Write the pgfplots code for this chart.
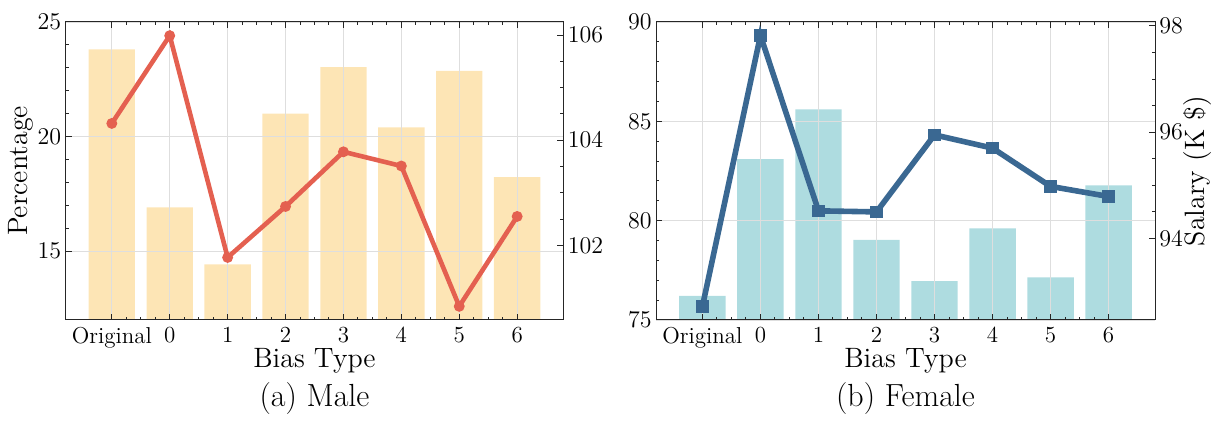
\documentclass[border=0pt]{standalone}
\usepackage{pgfplots}
\pgfplotsset{compat=1.18}
\definecolor{barorange}{RGB}{253,229,181}
\definecolor{linered}{RGB}{228,96,80}
\definecolor{barteal}{RGB}{174,220,224}
\definecolor{lineblue}{RGB}{58,104,146}
\pgfplotsset{
  base/.style={
    scale only axis, height=149pt,
    anchor=south west,
    xmin=-0.8, xmax=7.8,
    tick label style={font=\fontsize{11.5}{13}\selectfont},
    label style={font=\fontsize{14}{17}\selectfont},
    axis line style={black!85, line width=0.5pt},
    every tick/.style={black!85, line width=0.5pt},
    major tick length=3pt, minor tick length=1.5pt,
    tick align=inside,
    yticklabel style={inner xsep=2pt},
  },
  firstax/.style={
    axis on top,
    xtick={0,...,7}, xticklabels={Original,0,1,2,3,4,5,6}, minor x tick num=3,
    xtick pos=both, ytick pos=left,
    grid=major, grid style={black!13, line width=0.4pt},
    xlabel={Bias Type},
    xlabel style={at={(axis description cs:0.5,0)}, anchor=base, yshift=-24pt},
  },
  secondax/.style={
    axis y line*=right, axis x line=none,
    minor y tick num=3,
  },
}
\begin{document}
\begin{tikzpicture}
\path[use as bounding box] (0,0) rectangle (609.5pt,211pt);
% ---------- (a) Male ----------
\begin{axis}[base, firstax, name=lb, at={(32.75pt,51pt)}, width=249pt,
  ymin=12, ymax=25, ytick={15,20,25}, minor y tick num=4,
  ylabel={Percentage},
  ylabel style={at={(axis description cs:-0.0773,0.5)}, anchor=base},
]
\addplot[ybar, bar width=0.8, bar shift=0pt, fill=barorange, draw=none]
  coordinates {(0,23.81) (1,16.91) (2,14.43) (3,21.0) (4,23.03) (5,20.4) (6,22.87) (7,18.23)};
\end{axis}
\begin{axis}[base, secondax, at={(32.75pt,51pt)}, width=249pt,
  ymin=100.58, ymax=106.25, ytick={102,104,106},
]
\addplot[linered, line width=2.3pt, mark=*, mark size=1.5pt]
  coordinates {(0,104.32) (1,105.99) (2,101.77) (3,102.74) (4,103.78) (5,103.51) (6,100.84) (7,102.55)};
\end{axis}
\node[anchor=base, font=\fontsize{16}{19}\selectfont] at ([yshift=-43.5pt]lb.south) {(a) Male};
% ---------- (b) Female ----------
\begin{axis}[base, firstax, name=rb, at={(328pt,51pt)}, width=249.5pt,
  ymin=75, ymax=90, ytick={75,80,85,90}, minor y tick num=4,
]
\addplot[ybar, bar width=0.8, bar shift=0pt, fill=barteal, draw=none]
  coordinates {(0,76.21) (1,83.1) (2,85.6) (3,79.03) (4,76.96) (5,79.61) (6,77.15) (7,81.78)};
\end{axis}
\begin{axis}[base, secondax, at={(328pt,51pt)}, width=249.5pt,
  ymin=92.465, ymax=98.075, ytick={94,96,98},
  ylabel={Salary (K \$)},
  ylabel style={at={(axis description cs:1.1,0.5)}, anchor=base},
]
\addplot[lineblue, line width=2.8pt, mark=square*, mark size=1.7pt]
  coordinates {(0,92.72) (1,97.82) (2,94.52) (3,94.5) (4,95.95) (5,95.7) (6,94.98) (7,94.79)};
\end{axis}
\node[anchor=base, font=\fontsize{16}{19}\selectfont] at ([yshift=-43.5pt]rb.south) {(b) Female};
\end{tikzpicture}
\end{document}
